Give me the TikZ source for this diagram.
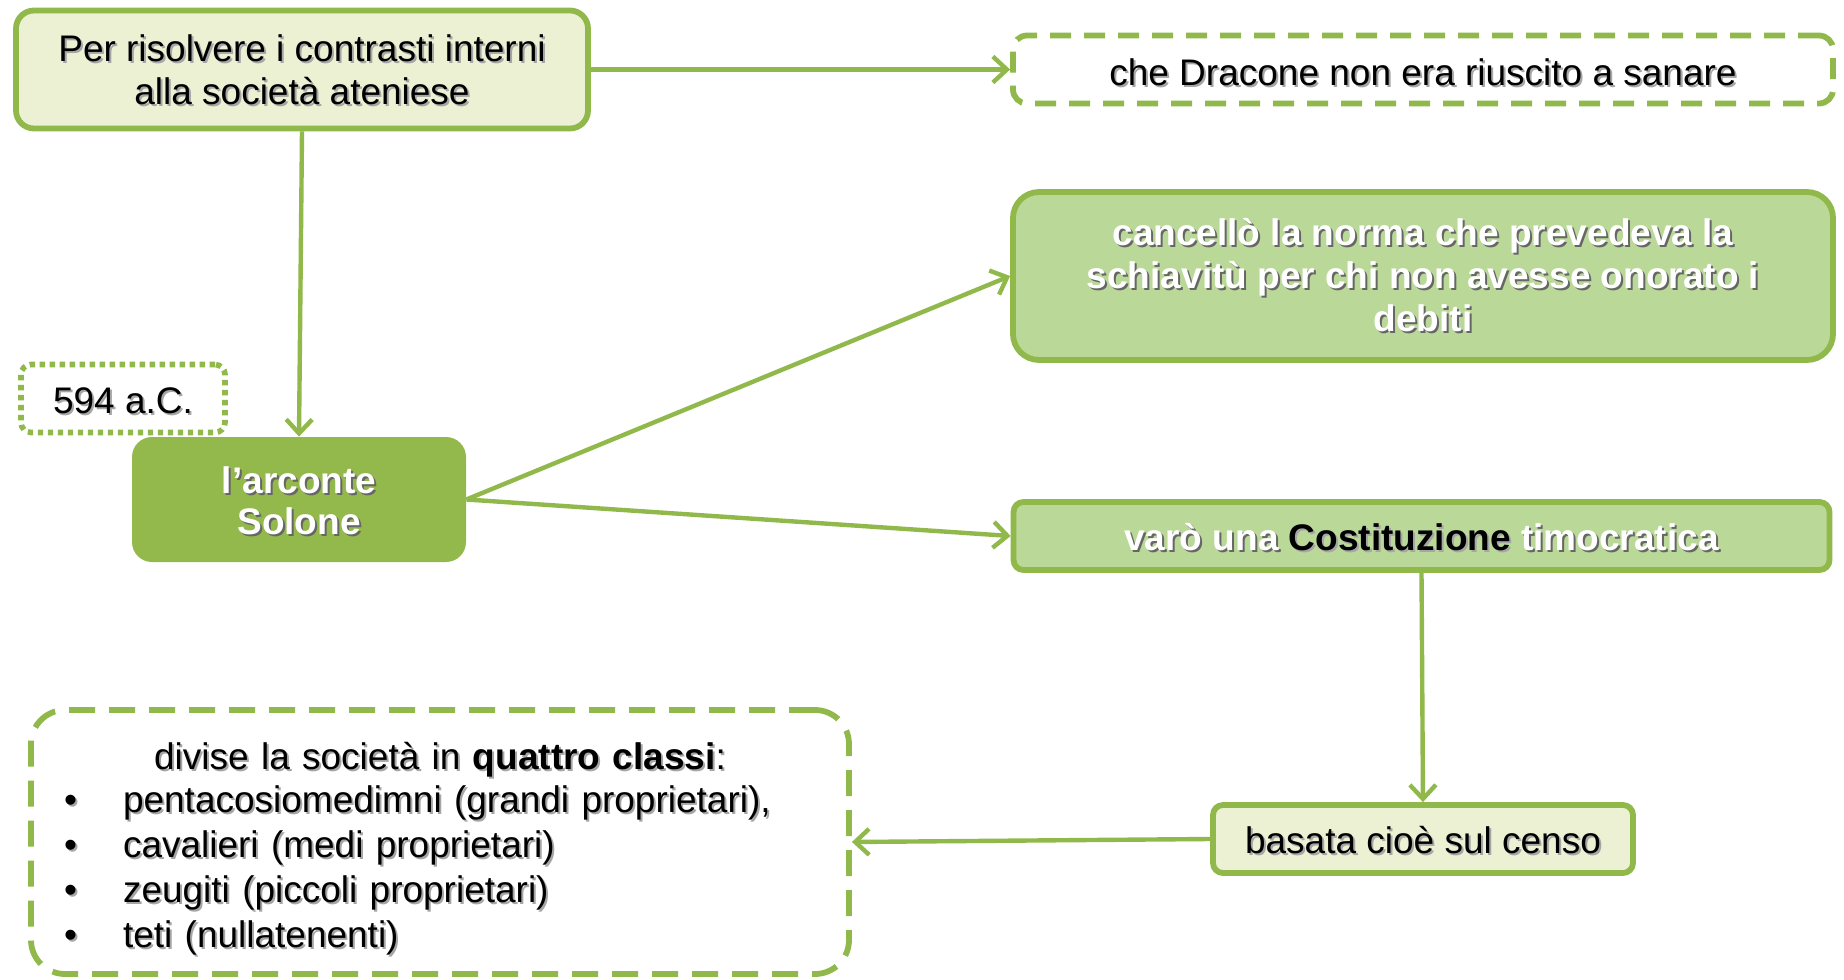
\documentclass[tikz,border=0pt]{standalone}
\usepackage{fontspec}
\setmainfont{Liberation Sans}
\usetikzlibrary{arrows.meta}

\definecolor{leaf}{HTML}{90B84A}
\definecolor{leafdark}{HTML}{93B84B}
\definecolor{pale}{HTML}{EBF1D2}
\definecolor{mid}{HTML}{BAD897}

% text with a soft offset shadow
\newcommand\blk[1]{\leavevmode\rlap{\kern1pt\raisebox{-1pt}{\textcolor{black!35}{#1}}}\textcolor{black}{#1}}
\newcommand\wht[1]{\leavevmode\rlap{\kern1pt\raisebox{-1pt}{\textcolor{black!60}{#1}}}\textcolor{white}{#1}}
% lower a line of text inside its box without changing the box extent
\newcommand\lowered[2]{\raisebox{-#1}[\height][\depth]{#2}}

\tikzset{
  base/.style={inner sep=0pt, align=center, font=\fontsize{18.5}{21.5}\selectfont},
  solidbox/.style={base, draw=leaf, line width=2.9pt},
  dashbox/.style={base, draw=leaf, line width=2.9pt, dash pattern=on 10.5pt off 6.5pt},
  dotbox/.style={base, draw=leaf, line width=2.8pt, dash pattern=on 2.7pt off 2.3pt},
  arr/.style={draw=leaf, line width=2.2pt, -{Straight Barb[length=7pt,width=13pt]}}
}

\begin{document}
\begin{tikzpicture}[x=0.5pt, y=-0.5pt]
\useasboundingbox (0,0) rectangle (1844,980);

% boxes
\node[solidbox, fill=pale, rounded corners=9pt, minimum width=286pt, minimum height=59pt] (A) at (302,69.5)
  {\lowered{0.6pt}{\blk{Per risolvere i contrasti interni}}\\\lowered{0.6pt}{\blk{alla società ateniese}}};

\node[dashbox, rounded corners=7pt, minimum width=410pt, minimum height=34pt] (B) at (1423,69.5)
  {\lowered{1.8pt}{\blk{che Dracone non era riuscito a sanare}}};

\node[solidbox, fill=mid, rounded corners=13pt, minimum width=410pt, minimum height=84pt,
      font=\fontsize{18.5}{21.5}\selectfont\bfseries] (C) at (1423,276)
  {\wht{cancellò la norma che prevedeva la}\\\wht{schiavitù per chi non avesse onorato i}\\\wht{debiti}};

\node[dotbox, rounded corners=5pt, minimum width=102pt, minimum height=34pt] (D) at (123,398.5)
  {\lowered{1.8pt}{\blk{594 a.C.}}};

\node[base, fill=leafdark, rounded corners=10pt, minimum width=167pt, minimum height=62.5pt,
      font=\fontsize{18.5}{20.5}\selectfont\bfseries] (E) at (299,499.5)
  {\lowered{1pt}{\wht{l’arconte}}\\\lowered{1pt}{\wht{Solone}}};

\node[solidbox, fill=mid, rounded corners=5pt, minimum width=408pt, minimum height=34pt,
      font=\fontsize{18.5}{21.5}\selectfont\bfseries] (F) at (1421.5,536)
  {\lowered{1pt}{\wht{varò una} \blk{Costituzione} \wht{timocratica}}};

\node[solidbox, fill=pale, rounded corners=5pt, minimum width=210pt, minimum height=34pt] (G) at (1423,839)
  {\lowered{1.2pt}{\blk{basata cioè sul censo}}};

\node[base, draw=leaf, line width=2.9pt, dash pattern=on 13pt off 7pt, rounded corners=17pt,
      minimum width=409pt, minimum height=132pt, align=left, text width=390pt,
      font=\fontsize{18.5}{22.6}\selectfont] (H) at (440,842)
  {\rule{0pt}{20.3pt}\makebox[390pt]{\lowered{1pt}{\blk{divise la società in \textbf{quattro classi}:}}}\\
   \makebox[36.5pt][l]{\hspace*{7pt}\blk{•}}\blk{pentacosiomedimni (grandi proprietari),}\\
   \makebox[36.5pt][l]{\hspace*{7pt}\blk{•}}\blk{cavalieri (medi proprietari)}\\
   \makebox[36.5pt][l]{\hspace*{7pt}\blk{•}}\blk{zeugiti (piccoli proprietari)}\\
   \makebox[36.5pt][l]{\hspace*{7pt}\blk{•}}\blk{teti (nullatenenti)}};

% connectors
\draw[arr] (A.east) -- (B.west);
\draw[arr] (A.south) -- (E.north);
\draw[arr] (E.east) -- (C.west);
\draw[arr] (E.east) -- (F.west);
\draw[arr] (F.south) -- (G.north);
\draw[arr] (G.west) -- (H.east);
\end{tikzpicture}
\end{document}
